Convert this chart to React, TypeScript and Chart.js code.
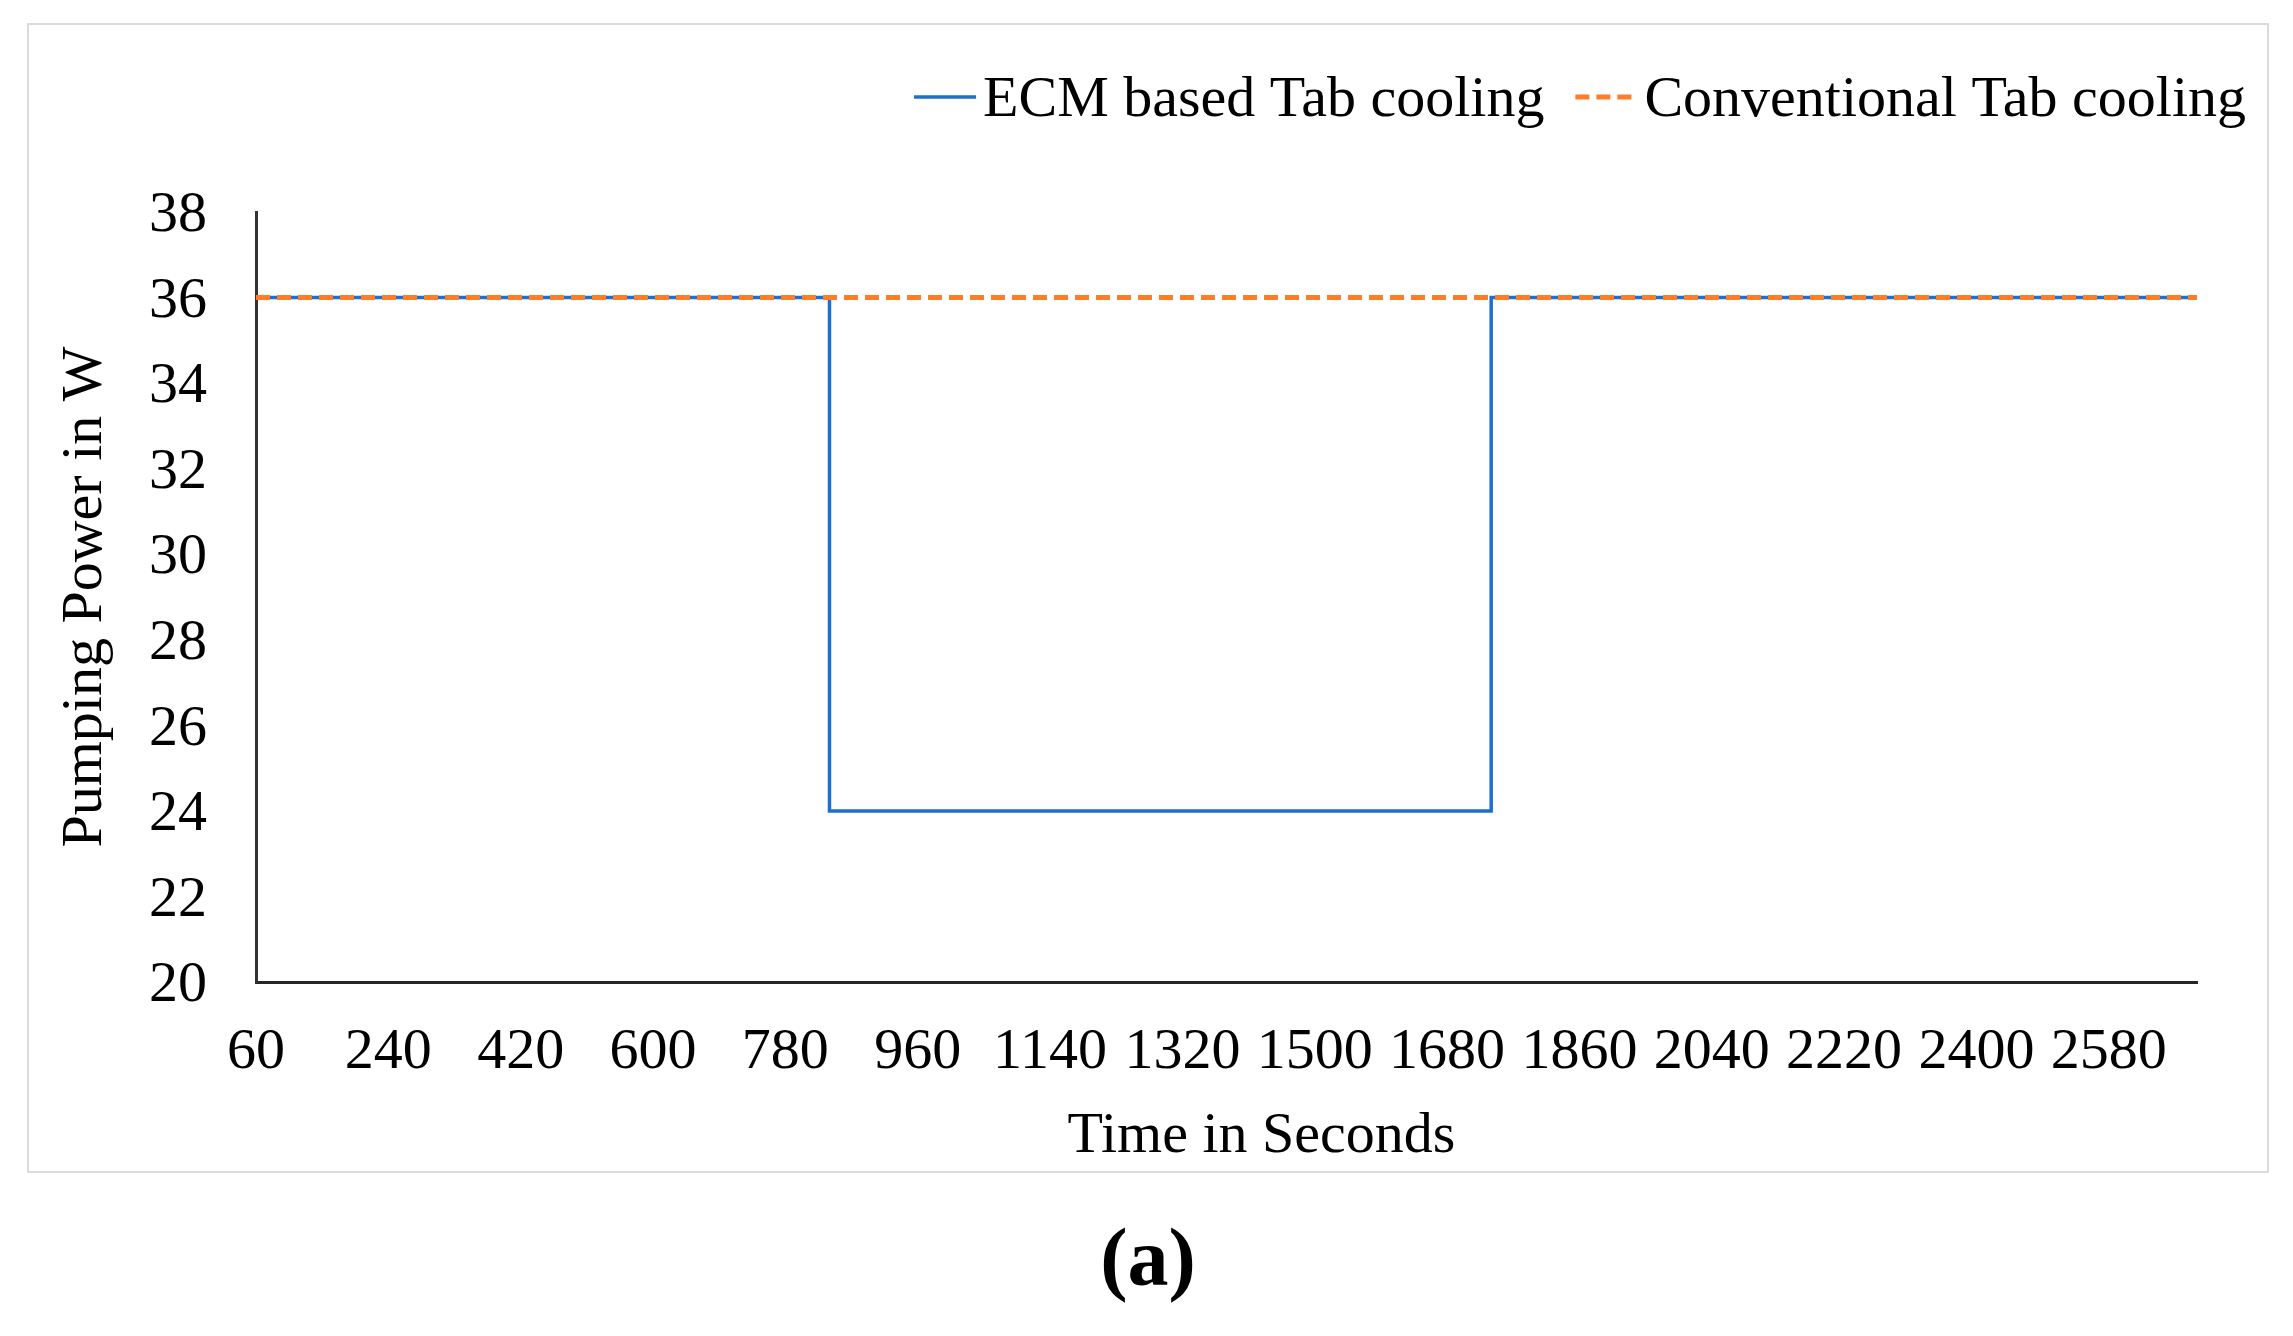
import React, { useEffect, useRef } from 'react';
import { Chart, registerables } from 'chart.js';

Chart.register(...registerables);

// ---- data ----
const ecmTime = [60, 840, 840, 1740, 1740, 2700];
const ecmPower = [36, 36, 24, 24, 36, 36];
const convTime = [60, 2700];
const convPower = [36, 36];
const xTickValues = [60, 240, 420, 600, 780, 960, 1140, 1320, 1500, 1680, 1860, 2040, 2220, 2400, 2580];
const xMin = 60;
const xMax = 2700;
const yMin = 20;
const yMax = 38;
const yStep = 2;
const seriesLabels = ['ECM based Tab cooling', 'Conventional Tab cooling'];
const xTitle = 'Time in Seconds';
const yTitle = 'Pumping Power in W';
const panelLabel = '(a)';

const FONT = "'Liberation Serif', 'Times New Roman', serif";
const FS = 58;

const legendPlugin = {
  id: 'customLegend',
  afterDraw(chart: any) {
    const ctx = chart.ctx;
    ctx.save();
    ctx.font = `${FS}px ${FONT}`;
    const sample = 62;
    const gap = 7;
    const itemGap = 31;
    const right = 2246;
    const lineY = 97;
    const baseY = 116;
    const items = chart.data.datasets.map((ds: any) => ({ ds, w: ctx.measureText(ds.label).width }));
    const total =
      items.reduce((s: number, it: any) => s + sample + gap + it.w, 0) + itemGap * (items.length - 1);
    let x = right - total;
    for (const it of items) {
      ctx.strokeStyle = it.ds.borderColor;
      ctx.lineWidth = it.ds.borderWidth;
      ctx.lineCap = 'butt';
      ctx.setLineDash(it.ds.borderDash || []);
      ctx.beginPath();
      ctx.moveTo(x, lineY);
      ctx.lineTo(x + sample, lineY);
      ctx.stroke();
      ctx.setLineDash([]);
      ctx.fillStyle = '#000';
      ctx.textBaseline = 'alphabetic';
      ctx.textAlign = 'left';
      ctx.fillText(it.ds.label, x + sample + gap, baseY);
      x += sample + gap + it.w + itemGap;
    }
    // x-axis title (slightly right of plot centre, as in the reference)
    const area = chart.chartArea;
    ctx.font = `${FS}px ${FONT}`;
    ctx.fillStyle = '#000';
    ctx.textAlign = 'center';
    ctx.textBaseline = 'middle';
    ctx.fillText(xTitle, (area.left + area.right) / 2 + 35, 1137);
    ctx.restore();
  },
};

export default function App() {
  const canvasRef = useRef<HTMLCanvasElement | null>(null);

  useEffect(() => {
    if (!canvasRef.current) return;
    const font = { family: FONT, size: FS };
    const chart = new Chart(canvasRef.current, {
      type: 'line',
      data: {
        datasets: [
          {
            label: seriesLabels[0],
            data: ecmTime.map((t, i) => ({ x: t, y: ecmPower[i] })),
            borderColor: '#1e6fd0',
            backgroundColor: '#1e6fd0',
            borderWidth: 3.5,
            borderJoinStyle: 'miter',
            borderCapStyle: 'butt',
            pointRadius: 0,
            tension: 0,
            fill: false,
            order: 1,
          },
          {
            label: seriesLabels[1],
            data: convTime.map((t, i) => ({ x: t, y: convPower[i] })),
            borderColor: '#ff7d2a',
            backgroundColor: '#ff7d2a',
            borderWidth: 5,
            borderDash: [14, 7],
            borderCapStyle: 'butt',
            pointRadius: 0,
            tension: 0,
            fill: false,
            order: 0,
          },
        ],
      },
      options: {
        responsive: false,
        animation: false,
        devicePixelRatio: 1,
        layout: { padding: { top: 212, right: 96, bottom: 0, left: 0 } },
        plugins: {
          legend: { display: false },
          tooltip: { enabled: false },
        },
        scales: {
          x: {
            type: 'linear',
            min: xMin,
            max: xMax,
            afterBuildTicks: (s: any) => {
              s.ticks = xTickValues.map((v) => ({ value: v }));
            },
            afterFit: (s: any) => {
              s.height = 354;
            },
            grid: { display: false },
            border: { display: true, color: '#262626', width: 3 },
            ticks: {
              autoSkip: false,
              maxRotation: 0,
              minRotation: 0,
              padding: 28,
              color: '#000',
              font,
              callback: (v: any) => String(v),
            },
            title: { display: false, text: xTitle },
          },
          y: {
            type: 'linear',
            min: yMin,
            max: yMax,
            afterFit: (s: any) => {
              s.width = 256;
            },
            grid: { display: false },
            border: { display: true, color: '#333333', width: 3 },
            ticks: {
              stepSize: yStep,
              padding: 41,
              labelOffset: 4,
              color: '#000',
              font,
            },
            title: {
              display: true,
              text: yTitle,
              color: '#000',
              font,
              padding: { top: 51, bottom: 0 },
            },
          },
        },
      },
      plugins: [legendPlugin],
    } as any);
    return () => chart.destroy();
  }, []);

  return (
    <div style={{ position: 'absolute', left: 0, top: 0, width: 2293, height: 1336, background: '#fff', overflow: 'hidden' }}>
      <div
        style={{
          position: 'absolute',
          left: 27,
          top: 23,
          width: 2242,
          height: 1150,
          boxSizing: 'border-box',
          border: '2px solid #dcdcdc',
        }}
      />
      <canvas
        ref={canvasRef}
        width={2293}
        height={1336}
        style={{ position: 'absolute', left: 0, top: 0, width: 2293, height: 1336, display: 'block' }}
      />
      <div
        style={{
          position: 'absolute',
          left: 948,
          width: 400,
          top: 1217,
          textAlign: 'center',
          fontFamily: FONT,
          fontWeight: 'bold',
          fontSize: 82,
          lineHeight: '82px',
          color: '#000',
        }}
      >
        {panelLabel}
      </div>
    </div>
  );
}
